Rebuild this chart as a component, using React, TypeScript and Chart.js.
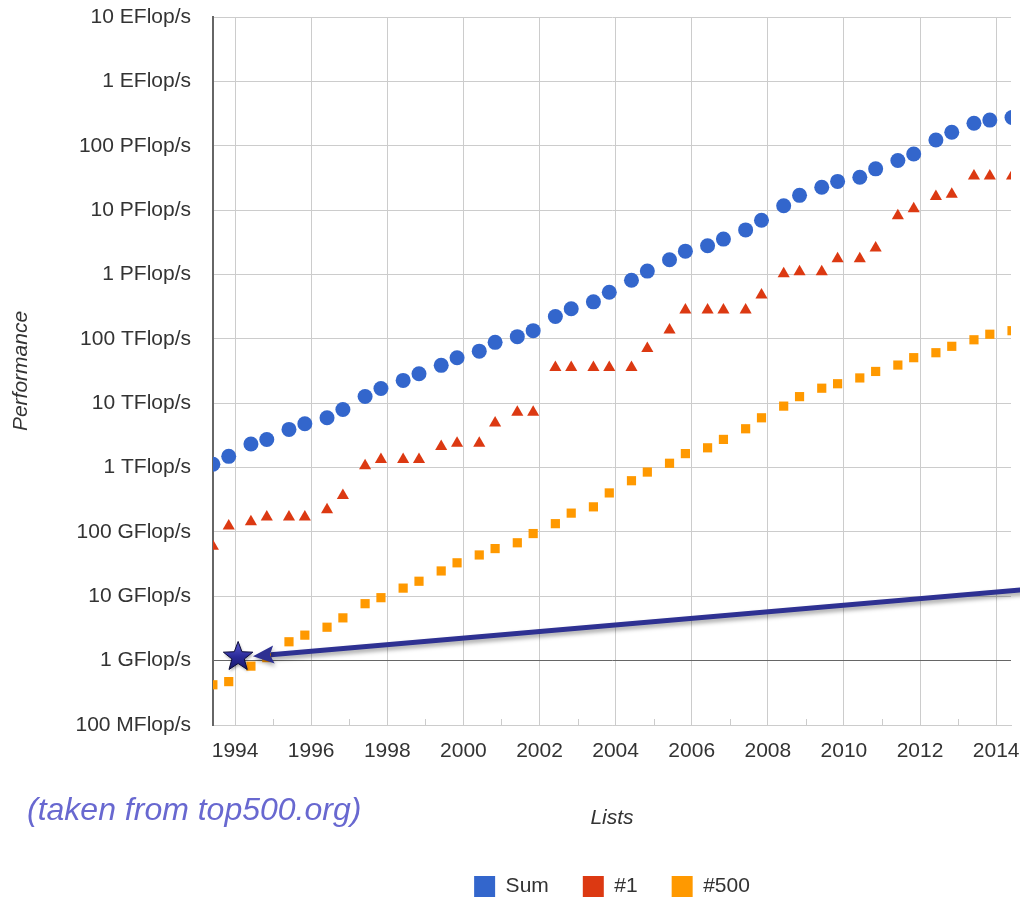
import React, { useEffect, useRef } from 'react';
import { Chart, registerables } from 'chart.js';

Chart.register(...registerables);

// ---- Data (GFlop/s) ----
const LIST_DATES = [
  '1993-06', '1993-11', '1994-06', '1994-11', '1995-06', '1995-11', '1996-06', '1996-11',
  '1997-06', '1997-11', '1998-06', '1998-11', '1999-06', '1999-11', '2000-06', '2000-11',
  '2001-06', '2001-11', '2002-06', '2002-11', '2003-06', '2003-11', '2004-06', '2004-11',
  '2005-06', '2005-11', '2006-06', '2006-11', '2007-06', '2007-11', '2008-06', '2008-11',
  '2009-06', '2009-11', '2010-06', '2010-11', '2011-06', '2011-11', '2012-06', '2012-11',
  '2013-06', '2013-11', '2014-06',
];

const SUM_GFLOPS = [
  1128, 1493, 2317, 2732, 3911, 4783, 5950, 7985,
  12730, 16950, 22600, 28700, 38700, 50900, 64300, 88100,
  108000, 134000, 222000, 293000, 375000, 528000, 813000, 1127000,
  1690000, 2300000, 2790000, 3540000, 4920000, 6970000, 11700000, 16950000,
  22600000, 27900000, 32400000, 43700000, 58900000, 74200000, 123000000, 162000000,
  223000000, 250000000, 274000000,
];

const TOP1_GFLOPS = [
  59.7, 124, 143.4, 170, 170, 170, 220.4, 368.2,
  1068, 1338, 1338, 1338, 2121, 2379, 2379, 4938,
  7226, 7226, 35860, 35860, 35860, 35860, 35860, 70720,
  136800, 280600, 280600, 280600, 280600, 478200, 1026000, 1105000,
  1105000, 1759000, 1759000, 2566000, 8162000, 10510000, 16320000, 17590000,
  33860000, 33860000, 33860000,
];

const TOP500_GFLOPS = [
  0.4217, 0.472, 0.822, 1.114, 1.964, 2.489, 3.306, 4.619,
  7.67, 9.51, 13.39, 17.12, 24.73, 33.1, 43.82, 55.1,
  67.78, 94.3, 134.3, 195.8, 245.1, 403.4, 624, 850.6,
  1166, 1646, 2026, 2737, 4005, 5929, 9000, 12640,
  17090, 20050, 24670, 31120, 39090, 50940, 60820, 76500,
  96620, 117800, 133700,
];

const SERIES_NAMES = ['Sum', '#1', '#500'];
const SERIES_COLORS = ['#3366CC', '#DC3912', '#FF9900'];

const X_TICK_YEARS = [1994, 1996, 1998, 2000, 2002, 2004, 2006, 2008, 2010, 2012, 2014];
const X_TICK_LABELS = ['1994', '1996', '1998', '2000', '2002', '2004', '2006', '2008', '2010', '2012', '2014'];
const X_MINOR_YEARS = [1995, 1997, 1999, 2001, 2003, 2005, 2007, 2009, 2011, 2013];
const X_MIN = 1993.42;
const X_MAX = 2014.39;

const Y_TICK_VALUES = [0.1, 1, 10, 100, 1e3, 1e4, 1e5, 1e6, 1e7, 1e8, 1e9, 1e10];
const Y_TICK_LABELS = [
  '100 MFlop/s', '1 GFlop/s', '10 GFlop/s', '100 GFlop/s', '1 TFlop/s', '10 TFlop/s',
  '100 TFlop/s', '1 PFlop/s', '10 PFlop/s', '100 PFlop/s', '1 EFlop/s', '10 EFlop/s',
];
const Y_BASELINE = 1;

const Y_TITLE = 'Performance';
const X_TITLE = 'Lists';
const SOURCE_NOTE = '(taken from top500.org)';

// annotation anchors in data units (year, GFlop/s)
const STAR_AT = { x: 1994.08, y: 1.14 };
const ARROW_FROM = { x: 2014.9, y: 12.9 };
const ARROW_TO = { x: 1994.47, y: 1.17 };

const FONT = '"Liberation Sans", Arial, sans-serif';
const TEXT_COLOR = '#333333';
const GRID_COLOR = '#cccccc';

function dateToYear(d: string): number {
  const [y, m] = d.split('-').map(Number);
  return y + (m - 1) / 12;
}

const overlayPlugin = {
  id: 'overlay',
  beforeDatasetsDraw(chart: any) {
    const { ctx, chartArea, scales } = chart;
    const xs = scales.x;
    ctx.save();
    ctx.strokeStyle = GRID_COLOR;
    ctx.lineWidth = 1;
    X_MINOR_YEARS.forEach((yr) => {
      const px = Math.round(xs.getPixelForValue(yr)) + 0.5;
      ctx.beginPath();
      ctx.moveTo(px, chartArea.bottom);
      ctx.lineTo(px, chartArea.bottom - 6);
      ctx.stroke();
    });
    ctx.restore();
  },
  afterDatasetsDraw(chart: any) {
    const { ctx, chartArea, scales } = chart;
    const xs = scales.x;
    const ys = scales.y;

    // arrow
    const x1 = xs.getPixelForValue(ARROW_FROM.x);
    const y1 = ys.getPixelForValue(ARROW_FROM.y);
    const x2 = xs.getPixelForValue(ARROW_TO.x);
    const y2 = ys.getPixelForValue(ARROW_TO.y);
    const ang = Math.atan2(y2 - y1, x2 - x1);
    const headLen = 21;
    const headHalf = 9;
    const bx = x2 - headLen * Math.cos(ang);
    const by = y2 - headLen * Math.sin(ang);
    ctx.save();
    ctx.shadowColor = 'rgba(0,0,0,0.35)';
    ctx.shadowBlur = 4;
    ctx.shadowOffsetX = 1;
    ctx.shadowOffsetY = 3;
    ctx.strokeStyle = '#2E3192';
    ctx.fillStyle = '#2E3192';
    ctx.lineWidth = 5;
    ctx.beginPath();
    ctx.moveTo(x1, y1);
    ctx.lineTo(bx + 3 * Math.cos(ang), by + 3 * Math.sin(ang));
    ctx.stroke();
    ctx.beginPath();
    ctx.moveTo(x2, y2);
    ctx.lineTo(bx + headHalf * Math.sin(ang), by - headHalf * Math.cos(ang));
    ctx.lineTo(bx + 4 * Math.cos(ang), by + 4 * Math.sin(ang));
    ctx.lineTo(bx - headHalf * Math.sin(ang), by + headHalf * Math.cos(ang));
    ctx.closePath();
    ctx.fill();
    ctx.restore();

    // star
    const cx = xs.getPixelForValue(STAR_AT.x);
    const cy = ys.getPixelForValue(STAR_AT.y);
    const R = 15.5;
    const r = 6.5;
    ctx.save();
    ctx.shadowColor = 'rgba(0,0,0,0.35)';
    ctx.shadowBlur = 3;
    ctx.shadowOffsetX = 1;
    ctx.shadowOffsetY = 2;
    ctx.beginPath();
    for (let i = 0; i < 10; i++) {
      const a = -Math.PI / 2 + (i * Math.PI) / 5;
      const rad = i % 2 === 0 ? R : r;
      const px = cx + rad * Math.cos(a);
      const py = cy + rad * Math.sin(a);
      if (i === 0) ctx.moveTo(px, py);
      else ctx.lineTo(px, py);
    }
    ctx.closePath();
    const g = ctx.createLinearGradient(cx, cy - R, cx, cy + R);
    g.addColorStop(0, '#5a5ad0');
    g.addColorStop(0.5, '#2a2a98');
    g.addColorStop(1, '#161660');
    ctx.fillStyle = g;
    ctx.fill();
    ctx.shadowColor = 'transparent';
    ctx.strokeStyle = '#0c0c3a';
    ctx.lineWidth = 1;
    ctx.stroke();
    ctx.restore();

    // source note
    ctx.save();
    ctx.font = `italic 32px ${FONT}`;
    ctx.fillStyle = '#6868D0';
    ctx.textAlign = 'left';
    ctx.textBaseline = 'alphabetic';
    ctx.fillText(SOURCE_NOTE, chartArea.left - 186, chartArea.bottom + 95);
    ctx.restore();
  },
};

export default function App() {
  const canvasRef = useRef<HTMLCanvasElement | null>(null);

  useEffect(() => {
    const canvas = canvasRef.current;
    if (!canvas) return;
    const xs = LIST_DATES.map(dateToYear);
    const seriesValues = [SUM_GFLOPS, TOP1_GFLOPS, TOP500_GFLOPS];
    const pointStyles = ['circle', 'triangle', 'rect'];
    const radii = [7.5, 7, 6.5];

    const datasets = SERIES_NAMES.map((name, i) => ({
      label: name,
      data: seriesValues[i].map((v, j) => ({ x: xs[j], y: v })),
      backgroundColor: SERIES_COLORS[i],
      borderColor: SERIES_COLORS[i],
      borderWidth: 0,
      pointBackgroundColor: SERIES_COLORS[i],
      pointBorderWidth: 0,
      pointStyle: pointStyles[i],
      pointRadius: radii[i],
      pointHoverRadius: radii[i],
      clip: 0,
    }));

    const chart = new Chart(canvas, {
      type: 'scatter',
      data: { datasets },
      plugins: [overlayPlugin],
      options: {
        animation: false,
        responsive: false,
        events: [],
        layout: { padding: { left: 0, right: 9, top: 17, bottom: -10 } },
        plugins: {
          tooltip: { enabled: false },
          legend: {
            display: true,
            position: 'bottom',
            fullSize: false,
            labels: {
              boxWidth: 21,
              boxHeight: 21,
              padding: 34,
              color: TEXT_COLOR,
              font: { family: FONT, size: 21 },
            },
          },
        },
        scales: {
          x: {
            type: 'linear',
            min: X_MIN,
            max: X_MAX,
            afterBuildTicks: (s: any) => {
              s.ticks = X_TICK_YEARS.map((v) => ({ value: v }));
            },
            afterFit: (s: any) => {
              s.height = 117;
              s.paddingLeft = 0;
              s.paddingRight = 0;
            },
            ticks: {
              autoSkip: false,
              maxRotation: 0,
              padding: 14,
              color: TEXT_COLOR,
              font: { family: FONT, size: 21 },
              callback: (v: any) => X_TICK_LABELS[X_TICK_YEARS.indexOf(Number(v))] ?? '',
            },
            grid: { color: GRID_COLOR, lineWidth: 1, drawTicks: false },
            border: { display: true, color: GRID_COLOR, width: 1 },
            title: {
              display: true,
              text: X_TITLE,
              color: TEXT_COLOR,
              font: { family: FONT, size: 21, style: 'italic' },
              padding: { top: 0, bottom: 11 },
            },
          },
          y: {
            type: 'logarithmic',
            min: Y_TICK_VALUES[0],
            max: Y_TICK_VALUES[Y_TICK_VALUES.length - 1],
            afterBuildTicks: (s: any) => {
              s.ticks = Y_TICK_VALUES.map((v) => ({ value: v }));
            },
            afterFit: (s: any) => {
              s.width = 213;
              s.paddingTop = 0;
              s.paddingBottom = 0;
            },
            ticks: {
              autoSkip: false,
              padding: 22,
              color: TEXT_COLOR,
              font: { family: FONT, size: 21 },
              callback: (v: any) => {
                const idx = Y_TICK_VALUES.findIndex((t) => Math.abs(Math.log10(t) - Math.log10(Number(v))) < 1e-6);
                return idx >= 0 ? Y_TICK_LABELS[idx] : '';
              },
            },
            grid: {
              drawTicks: false,
              lineWidth: 1,
              color: (ctx: any) =>
                ctx.tick && Math.abs(ctx.tick.value - Y_BASELINE) < 1e-9 ? '#666666' : GRID_COLOR,
            },
            border: { display: true, color: '#666666', width: 2 },
            title: {
              display: true,
              text: Y_TITLE,
              color: TEXT_COLOR,
              font: { family: FONT, size: 21, style: 'italic' },
              padding: { top: 9, bottom: 0 },
            },
          },
        },
      } as any,
    });

    return () => chart.destroy();
  }, []);

  return (
    <div style={{ position: 'absolute', left: 0, top: 0, width: 1020, height: 897, background: '#ffffff' }}>
      <canvas ref={canvasRef} width={1020} height={897} style={{ display: 'block' }} />
    </div>
  );
}
